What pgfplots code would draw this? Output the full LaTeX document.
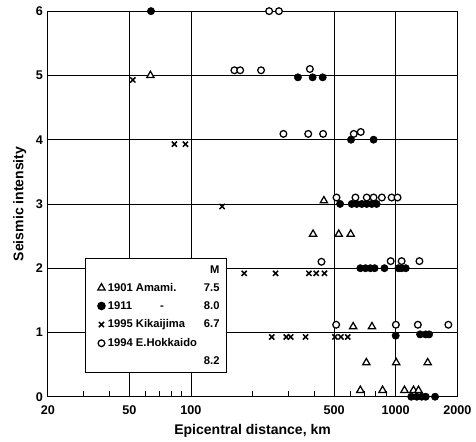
\documentclass[border=0pt]{standalone}
\usepackage{pgfplots}
\pgfplotsset{compat=1.18}
\usepackage{fontspec}
\setmainfont{Liberation Sans}

\newcommand{\leg}[2]{\parbox{2.8cm}{\bfseries #1\hfill #2}}

\begin{document}
\begin{tikzpicture}
\begin{axis}[
  scale only axis,
  width=10.275cm, height=9.675cm,
  xmode=log,
  xmin=20, xmax=2000,
  ymin=0, ymax=6,
  xtick={20,50,100,500,1000,2000},
  xticklabels={20,50,100,500,1000,2000},
  minor xtick={30,40,60,70,80,90,200,300,400,600,700,800,900},
  ytick={0,1,2,3,4,5,6},
  tick pos=left,
  major tick length=0pt,
  minor tick length=4pt,
  minor tick style={black, line width=0.6pt},
  grid=major,
  major grid style={black, line width=0.6pt},
  axis line style={line width=0.9pt},
  tick label style={font=\bfseries\small},
  xticklabel style={yshift=-0.1cm},
  /pgf/number format/assume math mode=true,
  xlabel={\bfseries Epicentral distance, km},
  ylabel={\bfseries Seismic intensity},
  xlabel style={yshift=0cm},
  clip=false,
  legend style={at={(rel axis cs:0.09,0.36)}, anchor=north west,
    draw=black, line width=0.9pt, font=\bfseries\footnotesize,
    row sep=2.5pt, inner sep=3pt},
  legend cell align=left,
]
\addlegendimage{empty legend}
\addlegendentry{\leg{}{M}}

% 1901 Amami
\addplot[only marks, mark=triangle*, mark size=3pt,
  mark options={fill=white, draw=black, line width=0.9pt}] coordinates {
(63.4,5) (446,3.05) (395,2.53) (527,2.53) (603,2.53)
(620,1.09) (766,1.09) (719,0.53) (1006,0.53) (1433,0.53)
(672,0.1) (863,0.1) (1104,0.1) (1222,0.1) (1292,0.1)
};
\addlegendentry{\leg{1901 Amami.}{7.5}}

% 1911
\addplot[only marks, mark=*, mark size=2.6pt, black] coordinates {
(63.8,6) (333,4.97) (393,4.97) (440,4.97) (605,4) (780,4)
(535,3) (610,3) (645,3) (683,3) (722,3) (764,3) (807,3)
(672,2) (712,2) (752,2) (789,2) (881,2) (1031,2) (1069,2) (1120,2)
(1000,0.95) (1316,0.97) (1402,0.97) (1456,0.97)
(1191,0) (1268,0) (1340,0) (1402,0) (1557,0)
};
\addlegendentry{\leg{1911\hspace{2.5em}-}{8.0}}

% 1995 Kikaijima
\addplot[only marks, mark=x, mark size=2.6pt, black,
  mark options={line width=1.1pt}] coordinates {
(52,4.93) (83,3.93) (94,3.93) (142,2.96)
(182,1.92) (259,1.92) (377,1.92) (409,1.92) (449,1.92)
(248,0.93) (292,0.93) (307,0.93) (363,0.93)
(505,0.93) (540,0.93) (583,0.93)
};
\addlegendentry{\leg{1995 Kikaijima}{6.7}}

% 1994 E. Hokkaido
\addplot[only marks, mark=*, mark size=2.4pt,
  mark options={fill=white, draw=black, line width=0.9pt}] coordinates {
(241,6) (269,6) (163,5.08) (174,5.08) (220,5.08) (381,5.1)
(283,4.09) (374,4.09) (442,4.09) (624,4.09) (675,4.12)
(514,3.1) (636,3.1) (722,3.1) (780,3.1) (856,3.1) (955,3.1) (1021,3.1)
(434,2.1) (945,2.11) (1069,2.11) (1306,2.11)
(512,1.12) (1002,1.12) (1283,1.12) (1808,1.12)
};
\addlegendentry{\leg{1994 E.Hokkaido}{}}

\addlegendimage{empty legend}
\addlegendentry{\leg{}{8.2}}
\end{axis}
\path ([xshift=-1.2cm]current axis.south west);
\path ([yshift=0.28cm]current axis.north west);
\end{tikzpicture}
\end{document}
